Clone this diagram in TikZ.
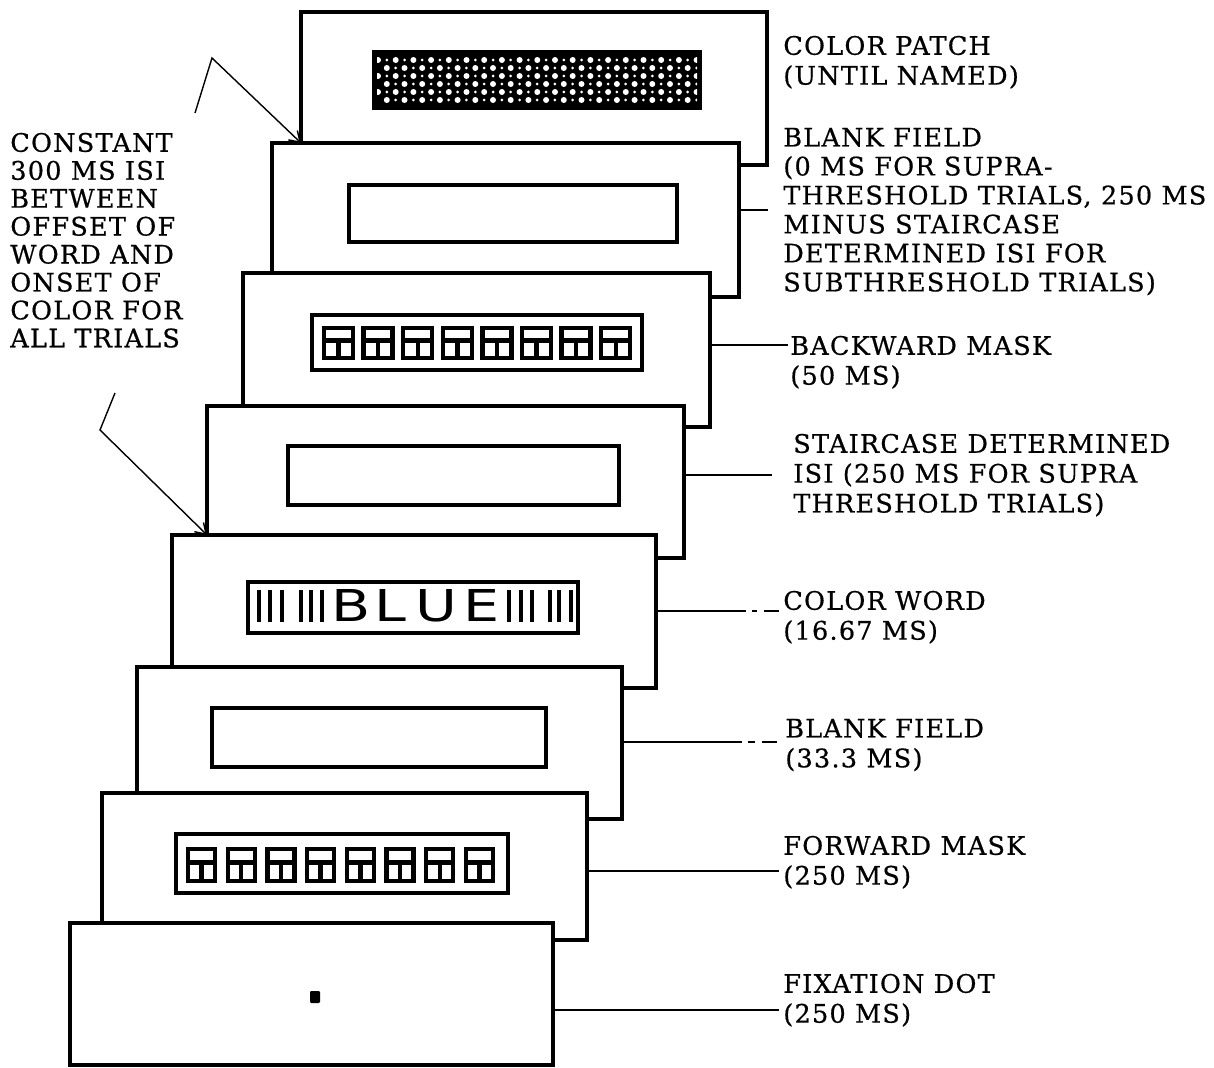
\documentclass[tikz,border=0pt]{standalone}
\usepackage{fontspec}
\usetikzlibrary{arrows.meta}
\newfontfamily\labelfont[LetterSpace=5, FakeBold=0.6]{DejaVu Serif}
\newfontfamily\stimfont[FakeStretch=1.3]{DejaVu Sans}

% one mask character: box, cross bar, half stem
\newcommand{\maskglyph}[4]{%
  \draw[glyph] (#1,#2) rectangle ++(#3,#4);
  \draw[glyph] (#1,#2+0.42*#4) -- ++(#3,0);
  \draw[glyph] (#1+0.5*#3,#2+0.42*#4) -- ++(0,0.58*#4);
}

\begin{document}
\begin{tikzpicture}[
    x=0.02cm, y=-0.02cm,
    screen/.style 2 args={draw, line width=2.2pt, fill=white,
        inner sep=0pt, outer sep=0pt,
        minimum width=#1*0.02cm, minimum height=#2*0.02cm},
    window/.style 2 args={draw, line width=2pt, fill=white,
        inner sep=0pt, outer sep=0pt,
        minimum width=#1*0.02cm, minimum height=#2*0.02cm},
    caption/.style={font=\labelfont\fontsize{14.5}{17}\selectfont,
        align=left, anchor=north west, inner sep=0pt},
    lead/.style={line width=1pt},
    pointer/.style={-{Straight Barb[length=2mm, width=2.6mm]}, line width=0.8pt},
    glyph/.style={line width=2.5pt},
    bar/.style={line width=2.2pt},
]
\useasboundingbox (0,0) rectangle (1214,1068);

% color patch (back screen)
\node[screen={466}{153}] (f1) at (534,88.5) {};
\node[window={326}{56}, fill=black] (w1) at (537,80) {};
\begin{scope}
  \clip (377,55) rectangle (697,105);
  \foreach \r in {0,...,5}{
    \foreach \c in {0,...,18}{
      \pgfmathsetmacro{\dx}{378+17.7*\c+8.8*mod(\r,2)}
      \fill[white] (\dx,60+8*\r) circle (0.06cm);
      \fill[white] (\dx+8.8,60+8*\r) circle (0.03cm);
    }
  }
\end{scope}

% blank field
\node[screen={467}{154}] (f2) at (505.5,220) {};
\node[window={328}{57}] (w2) at (513,213.5) {};

% backward mask
\node[screen={467}{154}] (f3) at (476.5,350) {};
\node[window={330}{55}] (w3) at (477,342.5) {};
\foreach \i in {0,...,7}{
  \pgfmathsetmacro{\gx}{324+39.6*\i}
  \maskglyph{\gx}{328}{29}{30}
}

% staircase isi
\node[screen={477}{152}] (f4) at (445.5,482) {};
\node[window={331}{59}] (w4) at (453.5,475.5) {};

% color word
\node[screen={484}{153}] (f5) at (414,611.5) {};
\node[window={330}{51}] (w5) at (413,607.5) {};
\foreach \bx in {259,270,282,301,311,322,509,521,532,550,559,571}
  \draw[bar] (\bx,590) -- (\bx,622);
\node[font=\stimfont\fontsize{25}{25}\selectfont, inner sep=0pt] (word)
    at (415.5,606) {B\kern2pt L\kern5.5pt U\kern3pt E};

% blank field
\node[screen={485}{152}] (f6) at (379.5,743) {};
\node[window={334}{59}] (w6) at (379,737.5) {};

% forward mask
\node[screen={485}{147}] (f7) at (344.5,866.5) {};
\node[window={332}{59}] (w7) at (342,863.5) {};
\foreach \i in {0,...,7}{
  \pgfmathsetmacro{\gx}{188+39.7*\i}
  \maskglyph{\gx}{849}{27}{32}
}

% fixation dot (front screen)
\node[screen={483}{142}] (f8) at (311.5,994) {};
\node[fill=black, inner sep=0pt, minimum width=0.2cm, minimum height=0.24cm,
      rounded corners=0.6pt] (dot) at (315,997) {};

% labels
\node[caption] (lbl1) at (783,35.5) {COLOR PATCH\\(UNTIL NAMED)};
\node[caption, font=\labelfont\fontsize{14.5}{16.5}\selectfont] (lbl2) at (783,127.5)
    {BLANK FIELD\\(0 MS FOR SUPRA-\\THRESHOLD TRIALS, 250 MS\\MINUS STAIRCASE\\DETERMINED ISI FOR\\SUBTHRESHOLD TRIALS)};
\node[caption] (lbl3) at (790,335.5) {BACKWARD MASK\\(50 MS)};
\node[caption] (lbl4) at (793,433.5)
    {STAIRCASE DETERMINED\\ISI (250 MS FOR SUPRA\\THRESHOLD TRIALS)};
\node[caption] (lbl5) at (783,590.5) {COLOR WORD\\(16.67 MS)};
\node[caption] (lbl6) at (785,718.5) {BLANK FIELD\\(33.3 MS)};
\node[caption] (lbl7) at (783,835.5) {FORWARD MASK\\(250 MS)};
\node[caption] (lbl8) at (783,973.5) {FIXATION DOT\\(250 MS)};
\node[caption, font=\labelfont\fontsize{14.5}{15.9}\selectfont] (note) at (10,132.5)
    {CONSTANT\\300 MS ISI\\BETWEEN\\OFFSET OF\\WORD AND\\ONSET OF\\COLOR FOR\\ALL TRIALS};

% leader lines
\coordinate (e2) at (768,210);
\coordinate (e3) at (788,345);
\coordinate (e4) at (772,475);
\coordinate (e5) at (779,611);
\coordinate (e6) at (777,742);
\coordinate (e7) at (779,871);
\coordinate (e8) at (779,1010);
\draw[lead] (f2.east |- e2) -- (e2);
\draw[lead] (f3.east |- e3) -- (e3);
\draw[lead] (f4.east |- e4) -- (e4);
\draw[lead, dash pattern=on 1.8cm off 0.12cm on 0.1cm off 0.14cm on 0.3cm]
    (f5.east |- e5) -- (e5);
\draw[lead, dash pattern=on 2.4cm off 0.12cm on 0.14cm off 0.14cm on 0.3cm]
    (f6.east |- e6) -- (e6);
\draw[lead] (f7.east |- e7) -- (e7);
\draw[lead] (f8.east |- e8) -- (e8);

% isi arrows
\coordinate (p1) at (195,113);
\coordinate (k1) at (212,58);
\coordinate (p2) at (115,393);
\coordinate (k2) at (100,430);
\draw[pointer] (p1) -- (k1) -- (f1.west |- f2.north);
\draw[pointer] (p2) -- (k2) -- (f4.west |- f5.north);

\end{tikzpicture}
\end{document}
